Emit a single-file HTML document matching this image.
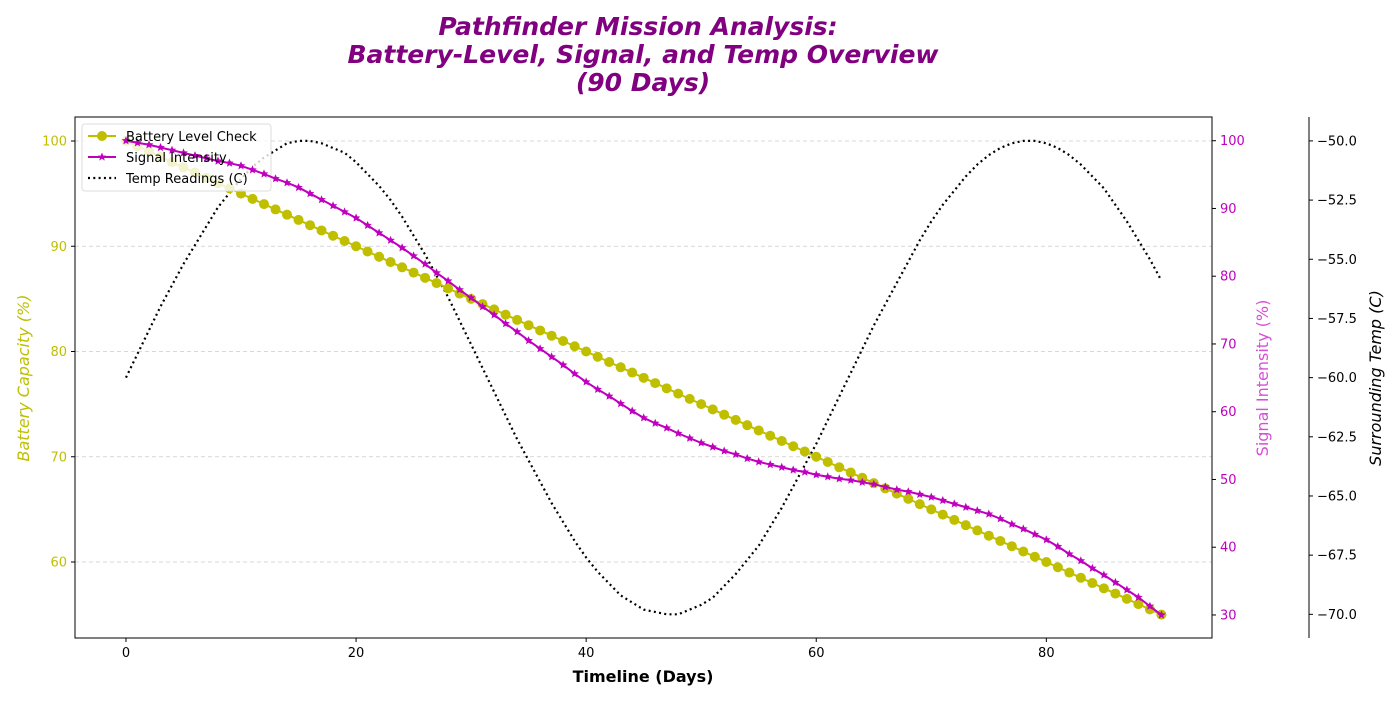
<!DOCTYPE html>
<html><head><meta charset="utf-8"><style>
body{margin:0;background:#fff;font-family:"Liberation Sans","DejaVu Sans",sans-serif}
svg text{font-family:"DejaVu Sans","Liberation Sans",sans-serif}
</style></head><body>
<svg id="c" width="1400" height="700" xmlns="http://www.w3.org/2000/svg">
<text x="643" y="35" text-anchor="middle" font-size="25" font-weight="bold" font-style="italic" fill="#800080"><tspan x="638">Pathfinder Mission Analysis:</tspan><tspan x="643" dy="28">Battery-Level, Signal, and Temp Overview</tspan><tspan x="643" dy="28">(90 Days)</tspan></text>
<g id="grid"></g><g id="marks"></g><g id="legend-slot"></g><g id="marks2"></g><g id="axes"></g>
</svg>
<script>
const days = Array.from({length:91},(_,i)=>i);
const battery = [100,99.5,99,98.5,98,97.5,97,96.5,96,95.5,95,94.5,94,93.5,93,92.5,92,91.5,91,90.5,90,89.5,89,88.5,88,87.5,87,86.5,86,85.5,85,84.5,84,83.5,83,82.5,82,81.5,81,80.5,80,79.5,79,78.5,78,77.5,77,76.5,76,75.5,75,74.5,74,73.5,73,72.5,72,71.5,71,70.5,70,69.5,69,68.5,68,67.5,67,66.5,66,65.5,65,64.5,64,63.5,63,62.5,62,61.5,61,60.5,60,59.5,59,58.5,58,57.5,57,56.5,56,55.5,55];
const signal = [100,99.7,99.4,99,98.6,98.2,97.8,97.4,97,96.7,96.3,95.7,95.1,94.4,93.8,93.1,92.2,91.3,90.4,89.5,88.6,87.5,86.4,85.3,84.2,83,81.8,80.5,79.3,78,76.8,75.5,74.3,73,71.8,70.5,69.3,68.1,66.9,65.6,64.4,63.3,62.3,61.2,60.1,59.1,58.3,57.6,56.8,56.1,55.4,54.8,54.2,53.7,53.1,52.6,52.2,51.8,51.4,51.1,50.7,50.4,50.1,49.9,49.6,49.3,48.9,48.5,48.2,47.8,47.4,46.9,46.4,45.9,45.4,44.9,44.2,43.4,42.7,41.9,41.1,40.1,39,38,36.9,35.9,34.8,33.7,32.6,31.3,30];
const temp = [-60,-59,-58,-57,-56.1,-55.2,-54.4,-53.6,-52.8,-52.2,-51.6,-51.1,-50.7,-50.4,-50.1,-50,-50,-50.1,-50.3,-50.5,-50.9,-51.4,-51.9,-52.5,-53.2,-54,-54.8,-55.7,-56.6,-57.6,-58.6,-59.6,-60.6,-61.6,-62.6,-63.5,-64.4,-65.3,-66.1,-66.9,-67.6,-68.2,-68.7,-69.2,-69.5,-69.8,-69.9,-70,-70,-69.8,-69.6,-69.3,-68.8,-68.3,-67.7,-67.1,-66.3,-65.5,-64.6,-63.7,-62.8,-61.8,-60.8,-59.8,-58.8,-57.8,-56.9,-56,-55.1,-54.2,-53.4,-52.7,-52.1,-51.5,-51,-50.6,-50.3,-50.1,-50,-50,-50.1,-50.3,-50.6,-51,-51.5,-52,-52.7,-53.4,-54.2,-55,-55.9];
const xTicks=[0,20,40,60,80];
const yTicks=[60,70,80,90,100];
const sTicks=[30,40,50,60,70,80,90,100];
const tTicks=[-50,-52.5,-55,-57.5,-60,-62.5,-65,-67.5,-70];

const L=75,R=1212,T=117,B=638;
const X=d=>L+(d+4.43)/(94.4+4.43)*(R-L);
const Y=v=>T+(102.28-v)/(102.28-52.78)*(B-T);
const YS=v=>T+(103.5-v)/(103.5-26.6)*(B-T);
const YT=v=>T+(-48.99-v)/(-48.99+71.0)*(B-T);
const NS='http://www.w3.org/2000/svg';
function mk(p,tag,at,txt){const e=document.createElementNS(NS,tag);for(const k in at)e.setAttribute(k,at[k]);if(txt!==undefined)e.textContent=txt;p.appendChild(e);return e;}
const grid=document.getElementById('grid'),marks=document.getElementById('marks'),marks2=document.getElementById('marks2'),axes=document.getElementById('axes'),lg=document.getElementById('legend-slot');

yTicks.forEach(v=>{const g=mk(grid,'line',{x1:L,x2:R,y1:Y(v),y2:Y(v),stroke:'#ccc','stroke-dasharray':'4,3','stroke-width':0.8});

});

const tp=mk(marks,'polyline',{points:days.map((d,i)=>X(d)+','+YT(temp[i])).join(' '),fill:'none',stroke:'#000','stroke-width':2.2,'stroke-dasharray':'2,3.3'});


const bl=mk(marks,'polyline',{points:days.map((d,i)=>X(d)+','+Y(battery[i])).join(' '),fill:'none',stroke:'#bfbf00','stroke-width':2});


days.forEach((d,i)=>{const c=mk(marks,'circle',{cx:X(d),cy:Y(battery[i]),r:5,fill:'#bfbf00'});

});

// legend (under signal series)
const lb=mk(lg,'rect',{x:82,y:124,width:189,height:67,rx:3,fill:'rgba(255,255,255,0.8)',stroke:'#ddd'});



const sl=mk(marks2,'polyline',{points:days.map((d,i)=>X(d)+','+YS(signal[i])).join(' '),fill:'none',stroke:'#bf00bf','stroke-width':2});


function star(cx,cy,r){let p=[];for(let k=0;k<10;k++){const a=-Math.PI/2+k*Math.PI/5,rr=k%2?r*0.45:r;p.push((cx+rr*Math.cos(a)).toFixed(1)+','+(cy+rr*Math.sin(a)).toFixed(1));}return p.join(' ');}
days.forEach((d,i)=>{const s=mk(marks2,'polygon',{points:star(X(d),YS(signal[i]),4.5),fill:'#bf00bf'});

});

const fr=mk(axes,'rect',{x:L,y:T,width:R-L,height:B-T,fill:'none',stroke:'#000','stroke-width':1});


xTicks.forEach(v=>{mk(axes,'line',{x1:X(v),x2:X(v),y1:B,y2:B+4,stroke:'#000'});
const t=mk(axes,'text',{x:X(v),y:B+19,'text-anchor':'middle','font-size':13},v);

});
yTicks.forEach(v=>{mk(axes,'line',{x1:L-4,x2:L,y1:Y(v),y2:Y(v),stroke:'#000'});
const t=mk(axes,'text',{x:L-8,y:Y(v)+4.5,'text-anchor':'end','font-size':13,fill:'#bfbf00'},v);

});
sTicks.forEach(v=>{mk(axes,'line',{x1:R,x2:R+4,y1:YS(v),y2:YS(v),stroke:'#000'});
const t=mk(axes,'text',{x:R+8,y:YS(v)+4.5,'font-size':13,fill:'#bf00bf'},v);

});
mk(axes,'line',{x1:1309,x2:1309,y1:T,y2:B,stroke:'#000'});
tTicks.forEach(v=>{mk(axes,'line',{x1:1309,x2:1313,y1:YT(v),y2:YT(v),stroke:'#000'});
const t=mk(axes,'text',{x:1317,y:YT(v)+4.5,'font-size':13},'\u2212'+Math.abs(v).toFixed(1));

});
</script>
<svg width="1400" height="700" style="position:absolute;left:0;top:0" xmlns="http://www.w3.org/2000/svg">
<text x="643" y="682" text-anchor="middle" font-size="16" font-weight="bold">Timeline (Days)</text>
<text transform="translate(29,378) rotate(-90)" text-anchor="middle" font-size="16" font-style="italic" fill="#bfbf00">Battery Capacity (%)</text>
<text transform="translate(1268,378) rotate(-90)" text-anchor="middle" font-size="16" fill="#d64fd6">Signal Intensity (%)</text>
<text transform="translate(1381,378) rotate(-90)" text-anchor="middle" font-size="16" font-style="italic">Surrounding Temp (C)</text>
<g>
<line x1="88" y1="136" x2="116" y2="136" stroke="#bfbf00" stroke-width="2"/><circle cx="102" cy="136" r="5" fill="#bfbf00"/>
<text x="126" y="141" font-size="13">Battery Level Check</text>
<line x1="88" y1="157" x2="116" y2="157" stroke="#bf00bf" stroke-width="2"/><polygon points="102,152.5 103.3,155.6 106.3,155.6 103.9,157.5 104.8,160.6 102,158.8 99.2,160.6 100.1,157.5 97.7,155.6 100.7,155.6" fill="#bf00bf"/>
<text x="126" y="162" font-size="13">Signal Intensity</text>
<line x1="88" y1="178" x2="116" y2="178" stroke="#000" stroke-width="2.2" stroke-dasharray="2,3.3"/>
<text x="126" y="183" font-size="13">Temp Readings (C)</text>
</g>
</svg>
</body></html>
